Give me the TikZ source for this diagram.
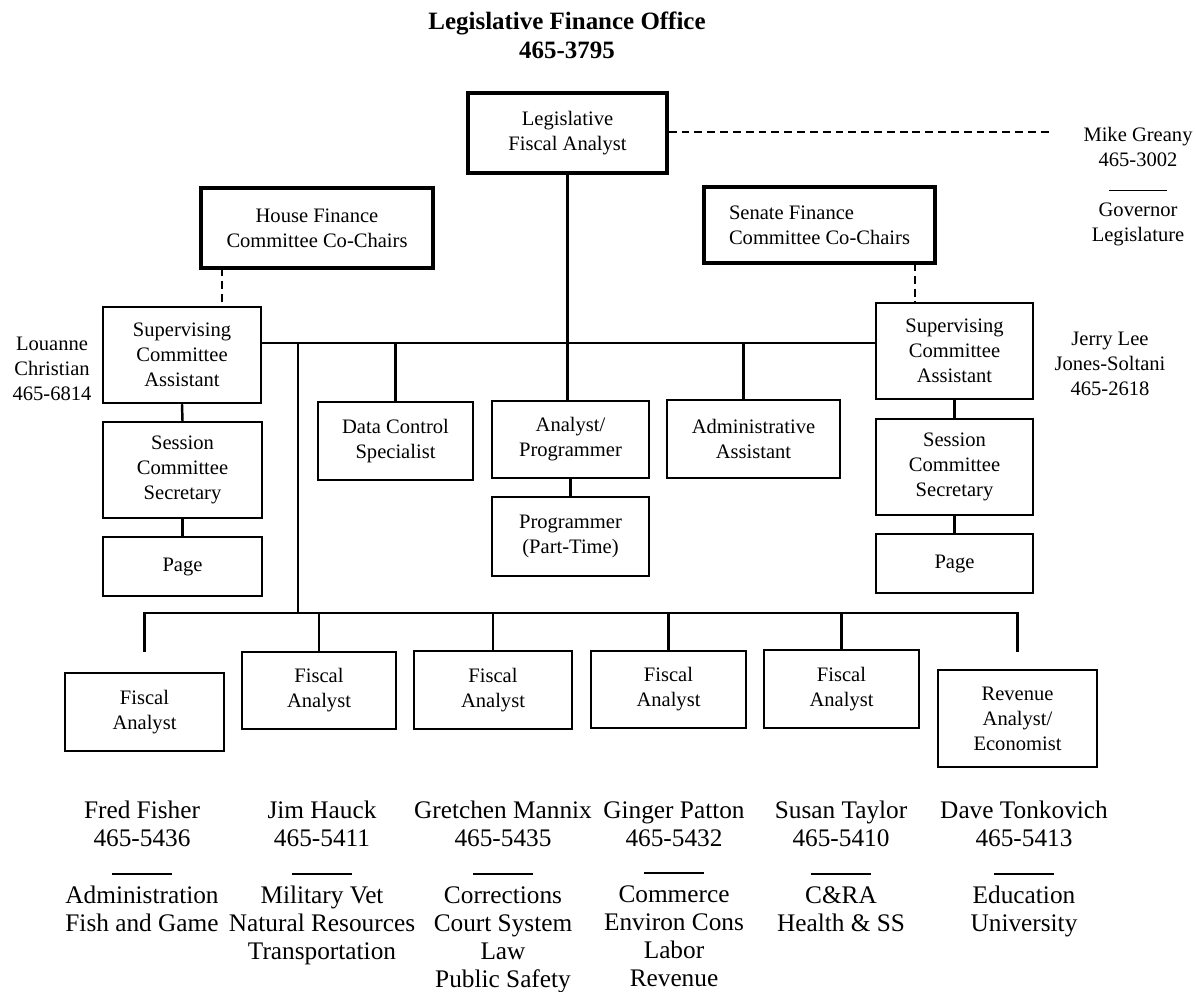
\documentclass[tikz,border=0pt]{standalone}
\usepackage{fontspec}
\setmainfont{Liberation Serif}
\newdimen\pxu \pxu=0.02cm
\newcommand{\sepline}{\rule{34pt}{1.1pt}}

\tikzset{every picture/.style={line width=1.4pt}}
\tikzset{
  post/.style 2 args={draw,align=center,inner sep=0pt,minimum width=#1\pxu,minimum height=#2\pxu,font=\fontsize{11.7}{14.2}\selectfont},
  chief/.style={line width=2pt},
  who/.style={align=center,inner sep=0pt,font=\fontsize{11.7}{14.2}\selectfont},
  staff/.style={align=center,inner sep=0pt,anchor=north,font=\fontsize{14.4}{16}\selectfont,execute at begin node=\strut},
  link/.style={dash pattern=on 4.5pt off 2.8pt}
}

\begin{document}
\begin{tikzpicture}[x=0.02cm,y=-0.02cm]
			\useasboundingbox (0,0) rectangle (1196,991);
			\node [align=center,inner sep=0pt,font=\fontsize{14.2}{16.5}\selectfont\bfseries](title) at (567,35) {Legislative Finance Office\\465-3795};

			% top level
			\node [post={199}{80},chief](lfa) at (567.5,133) {Legislative\\Fiscal Analyst};
			\node [post={232}{80},chief](house) at (317,228) {House Finance\\Committee Co-Chairs};
			\node [post={231}{76},chief,align=left](senate) at (819.5,225) {Senate Finance\\Committee Co-Chairs};
			\node [who,anchor=north](greany) at (1138,126) {Mike Greany\\465-3002\\\rule{33pt}{1pt}\\Governor\\Legislature};
			\coordinate (greanyend) at (1053,132);

			% committee staff
			\node [post={158}{96}](lsup) at (182,355) {Supervising\\Committee\\Assistant};
			\node [post={159}{96}](lsess) at (182.5,470) {Session\\Committee\\Secretary};
			\node [post={159}{59}](lpage) at (182.5,566.5) {Page};
			\node [who](louanne) at (52,369) {Louanne\\Christian\\465-6814};
			\node [post={157}{96}](rsup) at (954.5,351) {Supervising\\Committee\\Assistant};
			\node [post={157}{96}](rsess) at (954.5,467) {Session\\Committee\\Secretary};
			\node [post={157}{59}](rpage) at (954.5,563.5) {Page};
			\node [who](jerry) at (1110,364) {Jerry Lee\\Jones-Soltani\\465-2618};
			\coordinate (hdash) at (222,268);
			\coordinate (sdash) at (915,263);

			% support staff
			\node [post={155}{78}](datactl) at (395.5,441) {Data Control\\Specialist};
			\node [post={157}{77}](anprog) at (570.5,439.5) {Analyst/\\Programmer};
			\node [post={157}{79}](prog) at (570.5,536.5) {Programmer\\(Part-Time)};
			\node [post={173}{78}](admin) at (753.5,439) {Administrative\\Assistant};

			% analysts
			\node [post={159}{78}](fa1) at (144.5,712) {Fiscal\\Analyst};
			\node [post={154}{77}](fa2) at (319,690.5) {Fiscal\\Analyst};
			\node [post={158}{78}](fa3) at (493,690) {Fiscal\\Analyst};
			\node [post={155}{77}](fa4) at (668.5,689.5) {Fiscal\\Analyst};
			\node [post={155}{78}](fa5) at (841.5,689) {Fiscal\\Analyst};
			\node [post={159}{97}](rev) at (1017.5,718.5) {Revenue\\Analyst/\\Economist};

			\node [staff](fisher) at (142,800) {Fred Fisher\\465-5436\\\sepline\\Administration\\Fish and Game};
			\node [staff](hauck) at (322,800) {Jim Hauck\\465-5411\\\sepline\\Military Vet\\Natural Resources\\Transportation};
			\node [staff](mannix) at (503,800) {Gretchen Mannix\\465-5435\\\sepline\\Corrections\\Court System\\Law\\Public Safety};
			\node [staff](patton) at (674,800) {Ginger Patton\\465-5432\\\sepline\\Commerce\\Environ Cons\\Labor\\Revenue};
			\node [staff](taylor) at (841,800) {Susan Taylor\\465-5410\\\sepline\\C\&RA\\Health \& SS};
			\node [staff](tonkovich) at (1024,800) {Dave Tonkovich\\465-5413\\\sepline\\Education\\University};

			\draw [link] (lfa.east |- greanyend) -- (greanyend);
			\draw [link] (hdash) -- (hdash |- lsup.north);
			\draw [link] (sdash) -- (sdash |- rsup.north);
			\draw (lfa.south) -- (lfa.south |- anprog.north);
			\draw (lsup.east |- 0,343) -- (rsup.west |- 0,343);
			\draw (datactl.north) -- (datactl.north |- 0,343);
			\draw ([xshift=-10\pxu]admin.north) -- ([xshift=-10\pxu]admin.north |- 0,343);
			\draw (anprog.south) -- (prog.north);
			\draw (lsup.south) -- (lsess.north);
			\draw (lsess.south) -- (lpage.north);
			\draw (rsup.south) -- (rsess.north);
			\draw (rsess.south) -- (rpage.north);
			\draw (298,343) -- (298,613);
			\draw (fa1.north |- 0,652) -- (fa1.north |- 0,613) -- (rev.north |- 0,613) -- (rev.north |- 0,652);
			\foreach \n in {fa2,fa3,fa4,fa5}
				\draw (\n.north) -- (\n.north |- 0,613);
		\end{tikzpicture}
\end{document}
